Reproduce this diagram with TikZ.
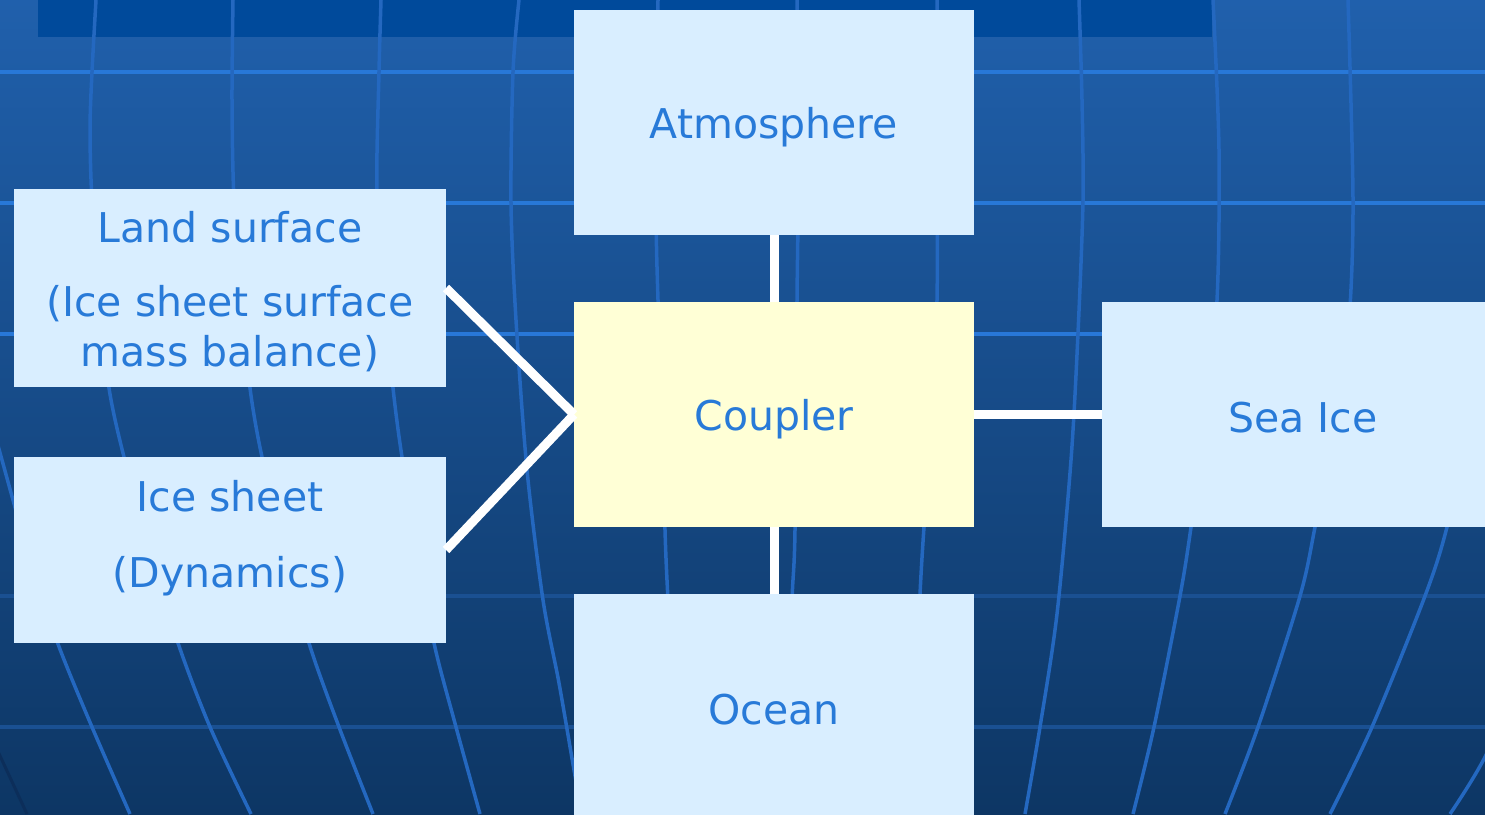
\documentclass[tikz,border=0pt]{standalone}
\usepackage{fontspec}
\setmainfont{DejaVu Sans}
\definecolor{bgtop}{RGB}{32,96,172}
\definecolor{bgmid}{RGB}{22,80,144}
\definecolor{bgbot}{RGB}{13,54,100}
\definecolor{barblue}{RGB}{0,74,155}
\definecolor{boxblue}{RGB}{217,238,255}
\definecolor{couplercol}{RGB}{255,255,214}
\definecolor{txtblue}{RGB}{40,122,216}
\definecolor{gridhicol}{RGB}{40,120,216}
\definecolor{gridlocol}{RGB}{26,80,146}
\definecolor{mercol}{RGB}{36,104,192}
\definecolor{merdark}{RGB}{12,46,90}
\begin{document}
\begin{tikzpicture}[x=1pt,y=-1pt,
  box/.style={fill=boxblue,draw=none,anchor=north west,inner sep=0pt,outer sep=0pt},
  txt/.style={text=txtblue,font=\fontsize{41}{50}\selectfont,align=center,inner sep=0pt},
  link/.style={draw=white,line width=9pt},
  mer/.style={draw=mercol,line width=3.5pt},
  hhi/.style={draw=gridhicol,line width=3.5pt},
  hlo/.style={draw=gridlocol,line width=3.5pt}]
\useasboundingbox (0,0) rectangle (1485,814);
\clip (0,0) rectangle (1485,814);
% background
\shade[top color=bgtop, middle color=bgmid, bottom color=bgbot] (0,0) rectangle (1485,814);
\fill[barblue] (38,0) rectangle (1212,37);
% horizontal grid lines
\draw[hhi] (0,72) -- (1485,72);
\draw[hhi] (0,203) -- (1485,203);
\draw[hhi] (0,334) -- (1485,334);
\draw[hlo] (0,596) -- (1485,596);
\draw[hlo] (0,727) -- (1485,727);
% meridians
\draw[draw=merdark,line width=3pt] (-5,745) -- (27,814);
\draw[mer] plot[smooth] coordinates {(-20,380) (2,460) (30,560) (58,644) (92,727) (130,814)};
\draw[mer] plot[smooth] coordinates {(96,0) (92,72) (90,130) (92,200) (100,300) (109,388) (124,457) (150,550) (178,643) (210,727) (251,814)};
\draw[mer] plot[smooth] coordinates {(233,0) (232,100) (234,200) (242,300) (250,388) (262,457) (285,550) (309,643) (339,727) (373,814)};
\draw[mer] plot[smooth] coordinates {(381,0) (379,72) (377,190) (385,300) (393,388) (402,457) (418,550) (434,643) (456,727) (480,814)};
\draw[mer] plot[smooth] coordinates {(519,0) (513,72) (511,203) (516,320) (527,470) (543,600) (559,683) (574,770) (582,814)};
\draw[mer] plot[smooth] coordinates {(658,0) (656,200) (658,300) (662,400) (665,530) (668,600) (675,727) (680,814)};
\draw[mer] plot[smooth] coordinates {(797,0) (798,200) (797,300) (795,530) (792,600) (788,727) (784,814)};
\draw[mer] plot[smooth] coordinates {(937,0) (937,100) (937,300) (930,450) (924,527) (920,594) (914,727) (908,814)};
\draw[mer] plot[smooth] coordinates {(1079,0) (1082,100) (1083,200) (1078,333) (1071,460) (1057,614) (1040,727) (1025,814)};
\draw[mer] plot[smooth] coordinates {(1213,0) (1219,150) (1217,300) (1205,420) (1191,527) (1180,596) (1154,727) (1133,814)};
\draw[mer] plot[smooth] coordinates {(1348,0) (1353,200) (1349,320) (1335,420) (1315,527) (1300,596) (1258,727) (1225,814)};
\draw[mer] plot[smooth] coordinates {(1500,300) (1470,420) (1447,527) (1425,596) (1372,727) (1330,814)};
\draw[mer] plot[smooth] coordinates {(1540,640) (1485,757) (1450,814)};
% boxes
\node[box,minimum width=400pt,minimum height=225pt,label={[txt,yshift=-5pt]center:Atmosphere}] (atm) at (574,10) {};
\node[box,fill=couplercol,minimum width=400pt,minimum height=225pt,label={[txt,yshift=-5pt]center:Coupler}] (cpl) at (574,302) {};
\node[box,minimum width=400pt,minimum height=228pt,label={[txt,yshift=-2pt]center:Ocean}] (ocn) at (574,594) {};
\node[box,minimum width=402pt,minimum height=225pt,label={[txt,yshift=-3pt]center:Sea Ice}] (sea) at (1102,302) {};
\node[box,minimum width=432pt,minimum height=198pt,label={[txt,yshift=-4pt]center:{Land surface\\[24pt](Ice sheet surface\\mass balance)}}] (lnd) at (14,189) {};
\node[box,minimum width=432pt,minimum height=186pt,label={[txt,yshift=12pt]center:{Ice sheet\\[26pt](Dynamics)}}] (ice) at (14,457) {};
% connectors
\draw[link] (atm.south) -- (cpl.north);
\draw[link] (cpl.south) -- (ocn.north);
\draw[link] (cpl.east) -- (sea.west);
\draw[link] (lnd.east) -- (cpl.west);
\draw[link] (ice.east) -- (cpl.west);
\end{tikzpicture}
\end{document}
